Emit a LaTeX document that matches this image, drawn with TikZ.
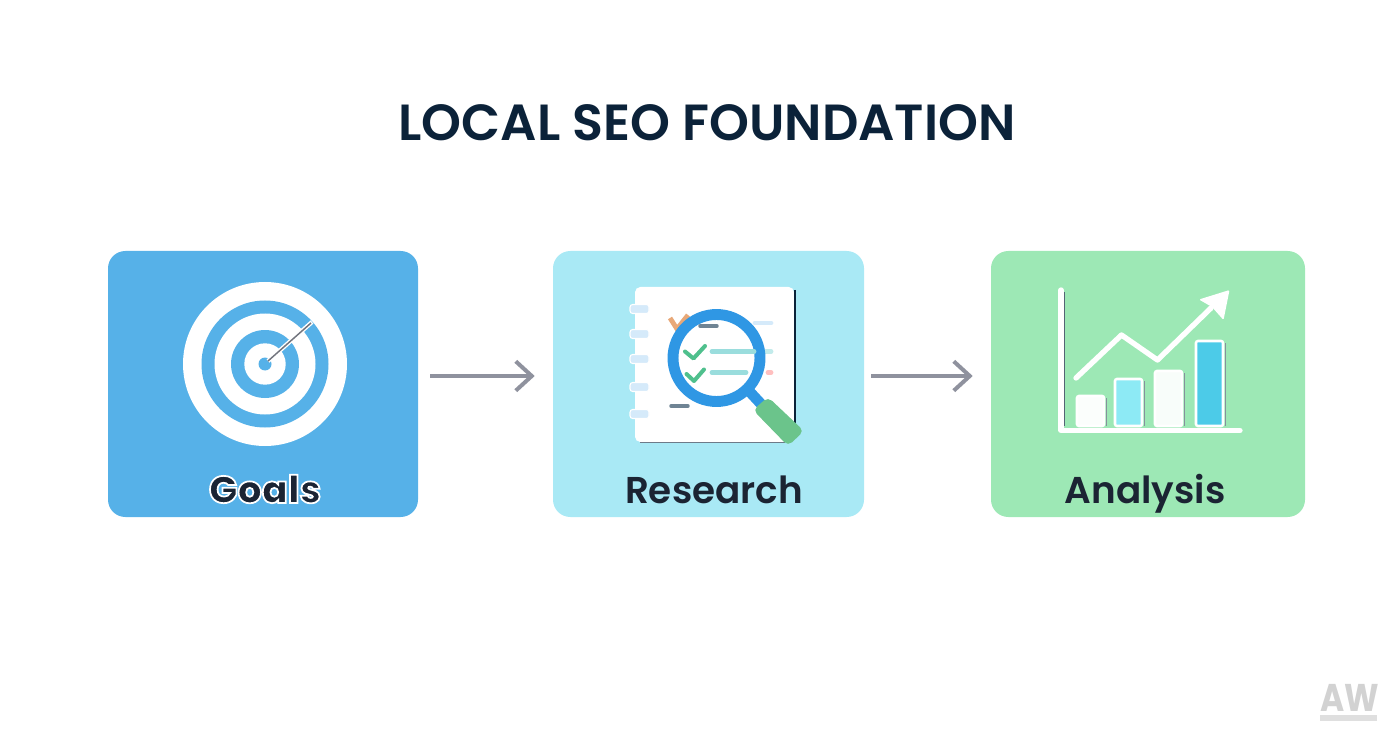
\documentclass[tikz,border=0pt]{standalone}
\usepackage{fontspec}
\setmainfont{Poppins}
\newfontfamily\headfont{Poppins SemiBold}
\newfontfamily\rimfont{Poppins ExtraBold}
\usetikzlibrary{arrows.meta}
\definecolor{inkblue}{HTML}{0B2239}
\definecolor{labelink}{HTML}{1B2433}
\definecolor{goalsblue}{HTML}{56B1E8}
\definecolor{researchblue}{HTML}{A9E9F5}
\definecolor{analysisgreen}{HTML}{9DE8B5}
\definecolor{arrowgrey}{HTML}{8F929E}
\definecolor{lensblue}{HTML}{2F97E4}
\definecolor{handlegreen}{HTML}{6BC48B}
\definecolor{checkgreen}{HTML}{4FC08D}
\definecolor{tealbar}{HTML}{9ADDDD}
\definecolor{paleaqua}{HTML}{8DEAF5}
\definecolor{deepaqua}{HTML}{4CCBE8}
\definecolor{ticklight}{HTML}{E8A878}
\newcommand{\whiterim}[1]{\special{pdf:code q 2 Tr 1.3 w 1 1 1 RG}#1\special{pdf:code Q}}
\tikzset{
  card/.style={minimum width=#1*0.75pt,minimum height=199.5pt,inner sep=0pt,rounded corners=13pt},
  cardlabel/.style={font=\fontsize{28}{30}\selectfont\headfont,text=labelink,inner sep=0pt,anchor=base},
  flowarrow/.style={draw=arrowgrey,line width=3pt,-{Straight Barb[length=12pt,width=22pt,line width=3pt]}},
  notebar/.style={line width=2.6pt,line cap=round},
  tealstrip/.style={line width=3.6pt,line cap=round},
  tickmark/.style={draw=checkgreen,line width=3pt,line cap=round,line join=round},
  chartline/.style={draw=white,line width=4pt,line cap=round,line join=round},
  chartbar/.style={draw=white,line width=1.9pt,rounded corners=1.5pt}
}
\begin{document}
\begin{tikzpicture}[x=0.75pt,y=-0.75pt]
  \useasboundingbox (0,0) rectangle (1392,752);
  \node (title) at (707,123) [font=\fontsize{38.1}{42}\selectfont\headfont,text=inkblue,inner sep=0pt] {LOCAL SEO FOUNDATION};
  \node (goals) at (263,384) [card=310,fill=goalsblue] {};
  \node (research) at (708.5,384) [card=311,fill=researchblue] {};
  \node (analysis) at (1148,384) [card=314,fill=analysisgreen] {};
  \coordinate (arrowrow) at (0,376);
  \draw[flowarrow,shorten <=9pt,shorten >=13.5pt] (goals.east |- arrowrow) to (research.west |- arrowrow);
  \draw[flowarrow,shorten <=5.25pt,shorten >=13.5pt] (research.east |- arrowrow) to (analysis.west |- arrowrow);

  \foreach \ringr/\ringcol in {82/white,63.5/goalsblue,50.5/white,34/goalsblue,20.7/white,6.5/goalsblue}
    \fill[\ringcol] (265,364) circle (\ringr*0.75pt);
  \draw[white,line width=3.2pt] (268,361) -- (312,322);
  \draw[arrowgrey!80!black,line width=1.1pt] (268,361) -- (311,323);

  \fill[white] (635,287) [rounded corners=4pt] rectangle (794,442);
  \draw[inkblue,line width=1pt] (795,290) -- (795,438);
  \draw[inkblue!60,line width=0.8pt] (640,442.5) -- (785,442.5);
  \foreach \ringy in {309,334,359,387,414}
    \draw[white,fill=white!80!lensblue,line width=0.8pt,rounded corners=2pt] (630,\ringy-4.5) rectangle (649,\ringy+4.5);
  \draw[ticklight,line width=3.6pt] (670,318) -- (677,329) -- (688,315);
  \draw[tealstrip,draw=white!80!lensblue] (755,323) -- (771,323);
  \draw[tealstrip,draw=tealbar!60!white] (755,351.5) -- (771,351.5);
  \draw[tealstrip,draw=pink] (768,372.5) -- (771,372.5);
  \draw[notebar,draw=gray!80!lensblue] (671,406) -- (688,406);
  \draw[lensblue,line width=8pt] (749,391) -- (762,405);
  \fill[handlegreen,rounded corners=4pt] (753,410) -- (768,397) -- (804,431) -- (788,446) -- cycle;
  \fill[white] (716.5,358) circle (39*0.75pt);
  \draw[lensblue,line width=8.2pt] (716.5,358) circle (43.5*0.75pt);
  \draw[notebar,draw=gray!80!lensblue] (700,326) -- (717,326);
  \draw[tealstrip,draw=tealbar] (712,351.5) -- (754,351.5);
  \draw[tealstrip,draw=tealbar] (712,372.5) -- (746,372.5);
  \draw[tickmark] (685,351.5) -- (693.5,358.5) -- (705,346);
  \draw[tickmark] (686.5,374) -- (694,381) -- (704,369.5);

  \draw[inkblue!70,line width=0.7pt] (1064,292) -- (1064,426);
  \draw[chartline] (1061,290) -- (1061,430.5) -- (1240,430.5);
  \foreach \barx/\bary/\barcol in {1077/396/white!96!analysisgreen,1115/379/paleaqua,1155/371/white!93!analysisgreen,1196/341/deepaqua}{
    \draw[inkblue!50,line width=0.6pt] (\barx+29,\bary+2) -- (\barx+29,426);
    \draw[chartbar,fill=\barcol] (\barx,\bary) rectangle (\barx+27,426);
  }
  \draw[chartline] (1076,378) -- (1121.5,335) -- (1157.5,360) -- (1211,308);
  \fill[white,rounded corners=1pt] (1229.5,290) -- (1199,299.5) -- (1212,307) -- (1223.5,320) -- cycle;

  \node (goalstext) at (265,503) [cardlabel,font=\fontsize{28.6}{30}\selectfont\rimfont] {\whiterim{Goals}};
  \node (researchtext) at (714,503) [cardlabel] {Research};
  \node (analysistext) at (1145,503) [cardlabel] {Analysis};

  \node (mark) at (1350,711) [font=\fontsize{29}{31}\selectfont\bfseries,text=gray!35,inner sep=0pt,anchor=base,xscale=0.85] {AW};
  \fill[gray!25] (1320,715) rectangle (1377,721);
\end{tikzpicture}
\end{document}
